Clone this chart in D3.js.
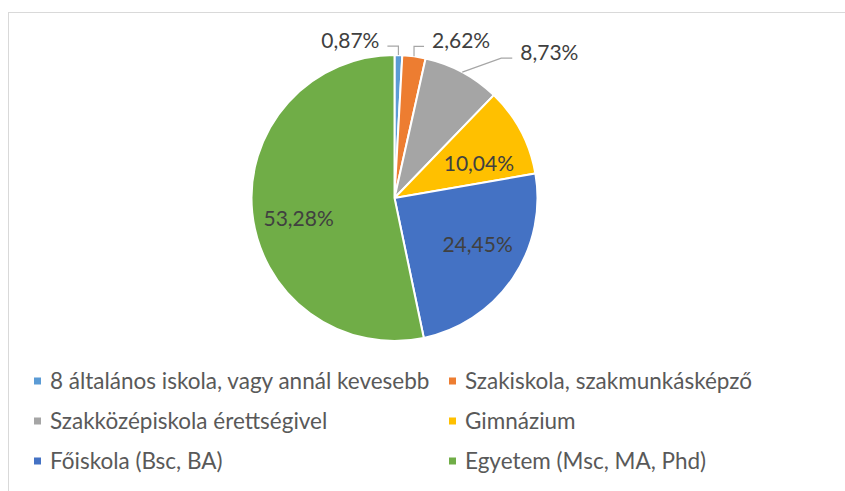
<!DOCTYPE html>
<html>
<head>
<meta charset="utf-8">
<script src="https://cdn.jsdelivr.net/npm/d3@7"></script>
<style>
    body { margin: 0; background: #fff; }
    svg { display: block; font-family: Lato, "Open Sans", sans-serif; }
</style>
</head>
<body>
<div id="pie-div"></div>
<script>
// chart values
var categories = ["8 általános iskola, vagy annál kevesebb", "Szakiskola, szakmunkásképző",
    "Szakközépiskola érettségivel", "Gimnázium", "Főiskola (Bsc, BA)", "Egyetem (Msc, MA, Phd)"];
var percents = [0.87, 2.62, 8.73, 10.04, 24.45, 53.28];
var labels = ["0,87%", "2,62%", "8,73%", "10,04%", "24,45%", "53,28%"];
var colors = ["#5B9BD5", "#ED7D31", "#A5A5A5", "#FFC000", "#4472C4", "#70AD47"];

var width = 845, height = 491;
var cx = 394.5, cy = 198, radius = 143;

var svg = d3.select("#pie-div").append("svg")
    .attr("width", width)
    .attr("height", height);

// chart area border (cut off at right and bottom)
svg.append("rect")
    .attr("x", 8.5)
    .attr("y", 12.5)
    .attr("width", 900)
    .attr("height", 600)
    .attr("fill", "none")
    .attr("stroke", "#d9d9d9")
    .attr("stroke-width", 1);

var pie = d3.pie().sort(null).value(function (d) { return d; });
var arcs = pie(percents);

var arc = d3.arc().innerRadius(0).outerRadius(radius);

var g = svg.append("g")
    .attr("transform", "translate(" + cx + "," + cy + ")");

g.selectAll("path")
    .data(arcs)
    .enter().append("path")
    .attr("d", arc)
    .attr("fill", function (d, i) { return colors[i]; })
    .attr("stroke", "#fff")
    .attr("stroke-width", 2);

// labels inside the bigger slices
var inner = d3.arc().innerRadius(radius * 0.66).outerRadius(radius * 0.66);
// nudges for the inside labels (excel "best fit")
var innerNudge = {3: [1, 10], 4: [5, -6], 5: [-2, 11]};

g.selectAll("text.inlabel")
    .data(arcs.filter(function (d) { return d.value >= 10; }))
    .enter().append("text")
    .attr("class", "inlabel")
    .attr("x", function (d) { return inner.centroid(d)[0] + innerNudge[d.index][0]; })
    .attr("y", function (d) { return inner.centroid(d)[1] + innerNudge[d.index][1]; })
    .attr("dy", "0.35em")
    .style("text-anchor", "middle")
    .style("font-size", "21px")
    .style("fill", "#404040")
    .text(function (d) { return labels[d.index]; });

// small slices: labels outside with leader lines
// elbow offset from the slice edge point, and which side the text goes
var outside = {
    0: {elbow: [0, -9], run: -11, side: -1},
    1: {elbow: [0, -10], run: 10, side: 1},
    2: {elbow: [39, -14], run: 11, side: 1}
};
var edge = d3.arc().innerRadius(radius).outerRadius(radius);

arcs.filter(function (d) { return d.value < 10; }).forEach(function (d) {
    var o = outside[d.index];
    var p = edge.centroid(d);
    var e = [p[0] + o.elbow[0], p[1] + o.elbow[1]];
    var end = [e[0] + o.run, e[1]];
    g.append("polyline")
        .attr("points", [p, e, end].map(function (q) { return q.join(","); }).join(" "))
        .attr("fill", "none")
        .attr("stroke", "#a6a6a6")
        .attr("stroke-width", 1.2);
    g.append("text")
        .attr("x", end[0] + o.side * 8)
        .attr("y", end[1])
        .attr("dy", "0.1em")
        .style("text-anchor", o.side < 0 ? "end" : "start")
        .style("font-size", "21px")
        .style("fill", "#404040")
        .text(labels[d.index]);
});

// legend, two columns
var colX = [34, 449], rowY = [381, 421, 461];
var legend = svg.selectAll("g.legend")
    .data(categories)
    .enter().append("g")
    .attr("class", "legend")
    .attr("transform", function (d, i) {
        return "translate(" + colX[i % 2] + "," + rowY[Math.floor(i / 2)] + ")";
    });

legend.append("rect")
    .attr("x", 0)
    .attr("y", -3.5)
    .attr("width", 7)
    .attr("height", 7)
    .attr("fill", function (d, i) { return colors[i]; });

legend.append("text")
    .attr("x", 16)
    .attr("y", 0)
    .attr("dy", "0.35em")
    .style("font-size", "22.5px")
    .style("fill", "#595959")
    .text(function (d) { return d; });
</script>
</body>
</html>
